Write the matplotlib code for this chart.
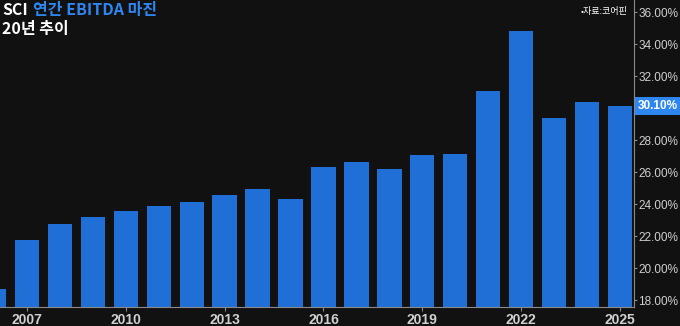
import matplotlib.pyplot as plt
from matplotlib.ticker import FuncFormatter, FixedLocator

plt.rcParams["font.family"] = ["Noto Sans CJK KR", "DejaVu Sans"]

years = list(range(2006, 2026))
ebitda_margin = [18.69, 21.75, 22.75, 23.19, 23.56, 23.88, 24.13, 24.56, 24.94, 24.31,
                 26.31, 26.63, 26.19, 27.06, 27.13, 31.06, 34.81, 29.38, 30.38, 30.10]
# 30% tick is covered by the last-value label in the original
y_ticks = [18, 20, 22, 24, 26, 28, 32, 34, 36]
x_ticks = [2007, 2010, 2013, 2016, 2019, 2022, 2025]
last_label = "30.10%"

BG = "#111111"
BAR = "#1f6fd6"
HILITE = "#2e86f0"
AXIS = "#8a8a8a"
TEXT = "#d0d0d0"
TICK_FONT = "Liberation Sans"

fig = plt.figure(figsize=(6.8, 3.26), dpi=100, facecolor=BG)
ax = fig.add_axes([0.0, 0.058, 0.932, 0.942], facecolor=BG)

ax.bar(years, ebitda_margin, width=0.74, color=BAR, zorder=2)

ax.set_xlim(2006.18, 2025.42)
ax.set_ylim(17.56, 36.75)

ax.yaxis.tick_right()
ax.yaxis.set_major_locator(FixedLocator(y_ticks))
ax.yaxis.set_major_formatter(FuncFormatter(lambda v, _: f"{v:.2f}%"))
ax.xaxis.set_major_locator(FixedLocator(x_ticks))
ax.tick_params(axis="y", colors=AXIS, labelcolor=TEXT, labelsize=8.5, length=2.5,
               width=0.8, pad=0.8)
ax.tick_params(axis="x", colors=AXIS, labelcolor=TEXT, labelsize=10, length=3,
               width=0.8, pad=1)
for lbl in ax.get_yticklabels():
    lbl.set_fontfamily(TICK_FONT)
for lbl in ax.get_xticklabels():
    lbl.set_fontfamily(TICK_FONT)
    lbl.set_fontweight("bold")

for side in ["top", "left"]:
    ax.spines[side].set_visible(False)
for side in ["right", "bottom"]:
    ax.spines[side].set_color(AXIS)
    ax.spines[side].set_linewidth(0.8)

# highlighted last value on the axis
ax.annotate(last_label, xy=(1.0, ebitda_margin[-1]),
            xycoords=("axes fraction", "data"),
            xytext=(3, 0), textcoords="offset points",
            ha="left", va="center", fontsize=8.5, fontweight="bold", color="white",
            family=TICK_FONT,
            bbox=dict(boxstyle="square,pad=0.25", fc=HILITE, ec="none"),
            zorder=5, annotation_clip=False)

# title
fig.text(0.003, 0.995, "SCI", ha="left", va="top", fontsize=11.5,
         fontweight="bold", color="white")
fig.text(0.049, 0.995, "연간 EBITDA 마진", ha="left", va="top", fontsize=11.5,
         fontweight="bold", color=HILITE)
fig.text(0.003, 0.935, "20년 추이", ha="left", va="top", fontsize=11.5,
         fontweight="bold", color="white")
fig.text(0.922, 0.965, "•자료:코어핀", ha="right", va="center", fontsize=6.5,
         color="white")

fig.savefig("out.png", dpi=100, facecolor=BG)
